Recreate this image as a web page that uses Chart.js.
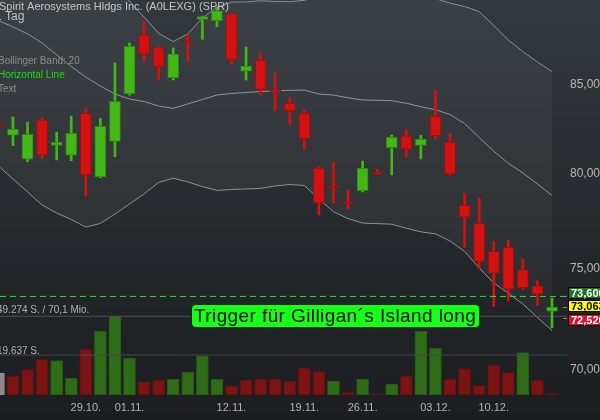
<!DOCTYPE html>
<html>
<head>
<meta charset="utf-8">
<style>
  html, body { margin: 0; padding: 0; background: #1c1e21; }
  #wrap { width: 600px; height: 420px; position: relative; overflow: hidden; }
</style>
<script src="https://cdn.jsdelivr.net/npm/chart.js@4.4.1/dist/chart.umd.min.js"></script>
</head>
<body>
<div id="wrap"><canvas id="chart" width="600" height="420"></canvas></div>
<script>
// trading days shown (one candle each)
const dates = ["19.10.", "22.10.", "23.10.", "24.10.", "25.10.", "26.10.", "29.10.", "30.10.", "31.10.", "01.11.",
  "02.11.", "05.11.", "06.11.", "07.11.", "08.11.", "09.11.", "12.11.", "13.11.", "14.11.", "15.11.",
  "16.11.", "19.11.", "20.11.", "21.11.", "23.11.", "26.11.", "27.11.", "28.11.", "29.11.", "30.11.",
  "03.12.", "04.12.", "06.12.", "07.12.", "10.12.", "11.12.", "12.12.", "13.12.", "14.12."];
const tickDates = ["29.10.", "01.11.", "12.11.", "19.11.", "26.11.", "03.12.", "10.12."];
const priceTicks = [70000, 75000, 80000, 85000];

const open = [82700, 82140, 80810, 83000, 81580, 81030, 83380, 79850, 81800, 84500, 87950, 87190, 85420, 87560, 88890, 88810, 89210, 85800, 86460, 84700,
  83950, 83380, 80330, 79360, 78500, 79100, 80080, 81450, 82110, 81570, 83220, 81760, 78310, 77360, 75900, 76100, 74940, 74120, 72860];
const close = [82600, 82470, 82190, 81030, 81750, 82250, 79950, 82640, 84060, 87270, 86800, 86070, 86810, 87460, 89050, 89400, 86500, 86110, 84750, 84600,
  83530, 81950, 78420, 79260, 78400, 80310, 79990, 82030, 81360, 81910, 82110, 80000, 77680, 75380, 74770, 73960, 74040, 73710, 73063];
const high = [82800, 83170, 82870, 83130, 82320, 83220, 83620, 83090, 86280, 87470, 88730, 87290, 87170, 87990, 89090, 89640, 89250, 87230, 86870, 85680,
  84270, 83560, 80380, 80660, 79130, 80710, 80260, 82150, 82470, 82130, 84710, 82250, 78960, 78700, 76420, 76480, 75500, 74390, 73510];
const low = [82500, 81560, 80670, 80840, 80770, 80730, 78830, 79800, 80950, 84420, 86360, 85330, 85290, 86400, 87690, 88440, 86210, 85290, 84420, 83530,
  82760, 81370, 77800, 78420, 78130, 79030, 79990, 79950, 80900, 80820, 81930, 79950, 76100, 75000, 73090, 73390, 73960, 73160, 72050];
const volume = [10650, 9330, 12420, 17530, 16840, 8200, 22440, 31270, 49274, 18020, 6380, 7360, 7710, 11290, 19150, 7710, 4420, 7360, 7710, 7710,
  6870, 13260, 11440, 6870, 1330, 7860, 490, 5400, 9330, 31270, 22930, 7710, 12910, 4760, 14580, 10950, 20770, 7220, 640];

// Bollinger Band 20
const bbUpper = [97200, 97120, 96990, 96610, 95610, 94600, 93770, 92540, 91110, 90000, 89030, 88050, 87550, 88010, 88970, 89640, 89940, 89950, 90020, 89980,
  89960, 90050, 90310, 90880, 90910, 90910, 90900, 90900, 90810, 90580, 90150, 89880, 89670, 89360, 88520, 87650, 86960, 86340, 85790];
const bbMid = [88820, 88430, 88010, 87470, 86760, 86080, 85460, 84940, 84480, 84190, 84050, 83790, 83660, 83910, 84170, 84420, 84510, 84570, 84620, 84670,
  84690, 84710, 84480, 84420, 84260, 84140, 84120, 84100, 83950, 83750, 83580, 83310, 82800, 82010, 81260, 80590, 80060, 79460, 78840];
const bbLower = [80440, 79730, 79030, 78330, 77900, 77560, 77160, 77350, 77850, 78380, 78920, 79540, 79770, 79570, 79320, 79110, 79160, 79190, 79220, 79350,
  79430, 79380, 78650, 77970, 77610, 77370, 77340, 77310, 77100, 76910, 76800, 76430, 75890, 75040, 74280, 73760, 73220, 72550, 71910];

const triggerLevel = 73600;
const lastPrice = 73063;
const lowPrice = 72520;
const volPanelTop = 38630;
const volAvg = 19637;

const title = "Spirit Aerosystems Hldgs Inc. (A0LEXG) (SPR)";
const period = "1 Tag";
const legend = [["Bollinger Band: 20", "#8e8e8e"], ["Horizontal Line", "#12e012"], ["Text", "#8e8e8e"]];
const volMaxText = "49.274 S. / 70,1 Mio.";
const volAvgText = "19.637 S.";
const triggerText = "Trigger für Gilligan´s Island long";

const FONT = '"Liberation Sans", Arial, sans-serif';
const GREEN = "#45b618", GREEN_DARK = "#2f8a12";
const RED = "#d21111", RED_DARK = "#a30c0c";

const idx = dates.map((d, i) => i);
const isUp = idx.map((i) => close[i] >= open[i]);
const bodies = idx.map((i) => ({ x: i, y: [open[i], close[i]] }));
const wicks = idx.map((i) => ({ x: i, y: [low[i], high[i]] }));
const volBars = idx.map((i) => ({ x: i, y: volume[i] }));
const volColors = idx.map((i) => (i === 0 ? "#8a8a8a" : close[i] >= close[i - 1] ? "#2e6c18" : "#7c1414"));
const volBorders = idx.map((i) => (i === 0 ? "#9a9a9a" : close[i] >= close[i - 1] ? "#255a14" : "#611010"));
const line = (arr) => idx.map((i) => ({ x: i, y: arr[i] }));
const tickIdx = idx.filter((i) => tickDates.includes(dates[i]));
const xMin = 0.11, xMax = 39.03;
const flat = (v) => [{ x: xMin, y: v }, { x: xMax, y: v }];

const bgPlugin = {
  id: "bg",
  beforeDraw(chart) {
    const { ctx, width, height } = chart;
    const g = ctx.createLinearGradient(0, 0, 0, height);
    g.addColorStop(0, "#33383c");
    g.addColorStop(1, "#1b1d20");
    ctx.save();
    ctx.fillStyle = g;
    ctx.fillRect(0, 0, width, height);
    ctx.restore();
  },
};

function tag(ctx, text, x, y, bg, fg) {
  ctx.fillStyle = bg;
  ctx.fillRect(x, y - 6, 40, 12);
  ctx.strokeStyle = "#000";
  ctx.lineWidth = 1;
  ctx.strokeRect(x + 0.5, y - 5.5, 40, 11);
  ctx.fillStyle = fg;
  ctx.fillText(text, x + 3, y + 0.5);
}

const overlayPlugin = {
  id: "overlay",
  afterDraw(chart) {
    const { ctx } = chart;
    const ys = chart.scales.y;
    const vs = chart.scales.yVol;
    ctx.save();
    ctx.textBaseline = "middle";
    ctx.textAlign = "left";

    ctx.font = "11px " + FONT;
    ctx.fillStyle = "#c4c4c4";
    ctx.fillText(title, -1, 7);
    ctx.font = "12px " + FONT;
    ctx.fillText(period, -5, 17);

    ctx.font = "10px " + FONT;
    legend.forEach(([t, c], k) => {
      ctx.fillStyle = c;
      ctx.fillText(t, -2, 61 + k * 14);
    });

    ctx.fillStyle = "#b0b0b0";
    ctx.fillText(volMaxText, -3, vs.getPixelForValue(volPanelTop) - 6);
    ctx.fillText(volAvgText, -3, vs.getPixelForValue(volAvg) - 4);

    // price tags on the right axis
    ctx.font = "bold 11px " + FONT;
    const tags = [
      [triggerLevel, -3, "#1c731c", "#ffffff"],
      [lastPrice, -1, "#ffff00", "#000000"],
      [lowPrice, 2, "#e0102a", "#ffffff"],
    ];
    tags.forEach(([v, off, bg, fg]) => {
      const py = ys.getPixelForValue(v);
      ctx.strokeStyle = "#8a8a8a";
      ctx.beginPath();
      ctx.moveTo(563, Math.round(py) + 0.5);
      ctx.lineTo(567, Math.round(py) + 0.5);
      ctx.stroke();
      tag(ctx, v.toLocaleString("en-US"), 568, Math.round(py + off), bg, fg);
    });

    // text annotation
    ctx.font = "19px " + FONT;
    ctx.letterSpacing = "0.4px";
    const tw = ctx.measureText(triggerText).width;
    const bx = 191, by = 304, bw = tw + 6, bh = 23;
    ctx.beginPath();
    ctx.roundRect(bx + 0.5, by + 0.5, bw, bh, 4);
    ctx.fillStyle = "#16ff16";
    ctx.fill();
    ctx.strokeStyle = "#0a2a0a";
    ctx.lineWidth = 1;
    ctx.stroke();
    ctx.fillStyle = "#0b0b0b";
    ctx.fillText(triggerText, bx + 3, by + 12.5);
    ctx.restore();
  },
};

new Chart(document.getElementById("chart"), {
  type: "bar",
  data: {
    datasets: [
      { type: "line", label: "BB oben", data: line(bbUpper), borderColor: "#8e9093", borderWidth: 1,
        pointRadius: 0, fill: "+2", backgroundColor: "rgba(255,255,255,0.045)", order: 10 },
      { type: "line", label: "BB Mitte", data: line(bbMid), borderColor: "#8e9093", borderWidth: 1,
        pointRadius: 0, fill: false, order: 10 },
      { type: "line", label: "BB unten", data: line(bbLower), borderColor: "#8e9093", borderWidth: 1,
        pointRadius: 0, fill: false, order: 10 },
      { type: "bar", label: "Volumen", data: volBars, yAxisID: "yVol", barThickness: 12, grouped: false,
        backgroundColor: volColors, borderColor: volBorders, borderWidth: 1, borderSkipped: false,
        clip: { left: 0, top: -316, right: 0, bottom: 0 }, order: 8 },
      { type: "line", label: "Vol max", data: flat(volPanelTop), yAxisID: "yVol", borderColor: "#4d5054",
        borderWidth: 1, pointRadius: 0, order: 7 },
      { type: "line", label: "Vol avg", data: flat(volAvg), yAxisID: "yVol", borderColor: "#45484c",
        borderWidth: 1, pointRadius: 0, order: 7 },
      { type: "bar", label: "Docht", data: wicks, barThickness: 2, grouped: false,
        backgroundColor: isUp.map((u) => (u ? GREEN : RED)), borderWidth: 0, order: 5 },
      { type: "bar", label: "Kerze", data: bodies, barThickness: 11, grouped: false,
        backgroundColor: isUp.map((u) => (u ? GREEN : RED)),
        borderColor: isUp.map((u) => (u ? GREEN_DARK : RED_DARK)), borderWidth: 1, borderSkipped: false, order: 4 },
      { type: "line", label: "Horizontal Line", data: flat(triggerLevel), borderColor: "#19f219",
        borderWidth: 1, borderDash: [6, 4], pointRadius: 0, order: 3 },
    ],
  },
  options: {
    responsive: false,
    animation: false,
    events: [],
    layout: { padding: 0 },
    plugins: { legend: { display: false }, tooltip: { enabled: false } },
    scales: {
      x: {
        type: "linear",
        min: xMin,
        max: xMax,
        offset: false,
        bounds: "data",
        grid: { display: false, drawTicks: false },
        border: { display: false },
        afterBuildTicks: (s) => { s.ticks = tickIdx.map((v) => ({ value: v })); },
        afterFit: (s) => { s.height = 25; s.paddingLeft = 0; s.paddingRight = 0; },
        ticks: {
          autoSkip: false,
          maxRotation: 0,
          padding: 6,
          color: "#b4b4b4",
          font: { family: FONT, size: 11 },
          callback: (v) => dates[v],
        },
      },
      y: {
        type: "logarithmic",
        position: "right",
        min: 68820,
        max: 90067,
        bounds: "data",
        grid: { display: false, drawTicks: false },
        border: { display: false },
        afterBuildTicks: (s) => { s.ticks = priceTicks.map((v) => ({ value: v })); },
        afterFit: (s) => { s.width = 33; s.paddingTop = 0; s.paddingBottom = 0; },
        ticks: {
          autoSkip: false,
          padding: 3,
          color: "#b7b7b7",
          font: { family: FONT, size: 12 },
          callback: (v) => Number(v).toLocaleString("en-US"),
        },
      },
      yVol: {
        type: "linear",
        display: false,
        min: 0,
        max: 193900,
      },
    },
  },
  plugins: [bgPlugin, overlayPlugin],
});
</script>
</body>
</html>
